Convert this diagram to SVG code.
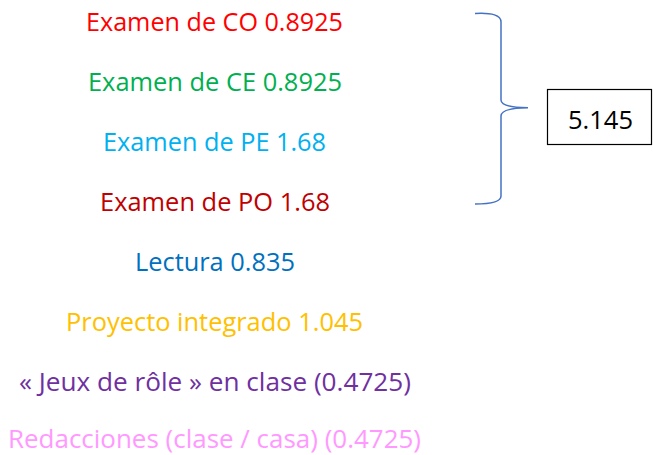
<svg xmlns="http://www.w3.org/2000/svg" width="653" height="455" viewBox="0 0 653 455">
<style>
text{font-family:"Open Sans","Liberation Sans",sans-serif;font-size:25px;}
.brace{fill:none;stroke:#4472C4;stroke-width:1.5;}
.box{fill:#fff;stroke:#000;stroke-width:1.2;}
</style>
<rect width="653" height="455" fill="#fff"/>
<g id="co"><text x="86" y="31" fill="#FF0000" textLength="257" lengthAdjust="spacingAndGlyphs">Examen de CO 0.8925</text></g>
<g id="ce"><text x="88" y="91" fill="#00B050" textLength="254" lengthAdjust="spacingAndGlyphs">Examen de CE 0.8925</text></g>
<g id="pe"><text x="103" y="151" fill="#00B0F0" textLength="223" lengthAdjust="spacingAndGlyphs">Examen de PE 1.68</text></g>
<g id="po"><text x="100" y="211" fill="#C00000" textLength="230" lengthAdjust="spacingAndGlyphs">Examen de PO 1.68</text></g>
<g id="lectura"><text x="135" y="271" fill="#0070C0" textLength="160" lengthAdjust="spacingAndGlyphs">Lectura 0.835</text></g>
<g id="proyecto"><text x="66" y="331" fill="#FFC000" textLength="297" lengthAdjust="spacingAndGlyphs">Proyecto integrado 1.045</text></g>
<g id="jeux"><text x="19" y="391" fill="#7030A0" textLength="392" lengthAdjust="spacingAndGlyphs">« Jeux de rôle » en clase (0.4725)</text></g>
<g id="redacciones"><text x="8" y="448" fill="#FF99FF" textLength="413" lengthAdjust="spacingAndGlyphs">Redacciones (clase / casa) (0.4725)</text></g>
<g id="connectors">
<path class="brace" d="M475,13.5 Q501,12 501,22 L501,100 Q501,107.5 528,107.8 Q501,108 501,116 L501,196 Q501,204 475,204"/>
</g>
<g id="total">
<rect class="box" x="547.5" y="89.5" width="104" height="55"/>
<text x="568" y="129" fill="#000" textLength="65" lengthAdjust="spacingAndGlyphs">5.145</text>
</g>
</svg>
